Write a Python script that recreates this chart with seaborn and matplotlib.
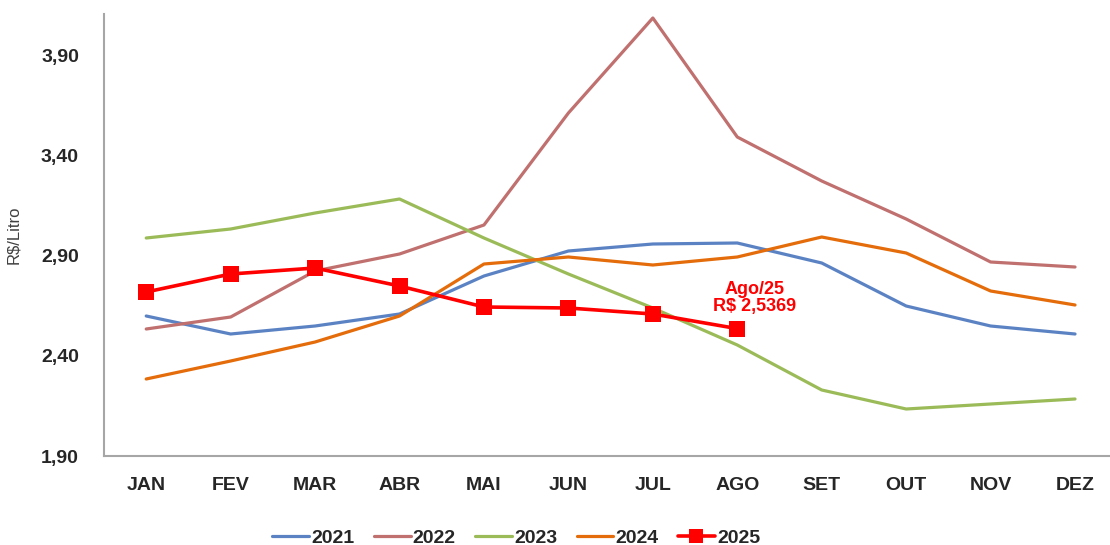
import pandas as pd
import matplotlib
matplotlib.use('Agg')
import matplotlib.pyplot as plt
import seaborn as sns

# Dados (R$/Litro por mês)
meses = ['JAN', 'FEV', 'MAR', 'ABR', 'MAI', 'JUN', 'JUL', 'AGO', 'SET', 'OUT', 'NOV', 'DEZ']
v2021 = [2.60, 2.51, 2.55, 2.61, 2.80, 2.925, 2.96, 2.965, 2.865, 2.65, 2.55, 2.51]
v2022 = [2.535, 2.595, 2.825, 2.91, 3.055, 3.615, 4.09, 3.495, 3.275, 3.085, 2.87, 2.845]
v2023 = [2.99, 3.035, 3.115, 3.185, 2.99, 2.81, 2.64, 2.455, 2.23, 2.135, 2.16, 2.185]
v2024 = [2.285, 2.375, 2.47, 2.60, 2.86, 2.895, 2.855, 2.895, 2.995, 2.915, 2.725, 2.655]
v2025 = [2.72, 2.81, 2.84, 2.75, 2.645, 2.64, 2.61, 2.5369]
yticks = [1.90, 2.40, 2.90, 3.40, 3.90]

cores = {'2021': '#5B83C4', '2022': '#C0706E', '2023': '#9BBB59',
         '2024': '#E46C0A', '2025': '#FF0000'}

series = {'2021': v2021, '2022': v2022, '2023': v2023, '2024': v2024}
linhas = []
for ano, vals in series.items():
    for m, v in zip(meses, vals):
        linhas.append({'mes': m, 'valor': v, 'ano': ano})
df = pd.DataFrame(linhas)
df25 = pd.DataFrame({'mes': meses[:len(v2025)], 'valor': v2025, 'ano': '2025'})

sns.set_style('white')
plt.rcParams['font.family'] = ['Liberation Sans', 'DejaVu Sans']

fig = plt.figure(figsize=(11.1, 5.45), dpi=100)
ax = fig.add_axes([104 / 1110, 89 / 545, 1 - 104 / 1110, (456 - 14) / 545])

sns.lineplot(data=df, x='mes', y='valor', hue='ano', palette=cores, linewidth=2.3,
             sort=False, ax=ax)
sns.lineplot(data=df25, x='mes', y='valor', color=cores['2025'], linewidth=2.6,
             marker='s', markersize=12, markeredgewidth=0, sort=False, ax=ax,
             label='2025')

ax.annotate('Ago/25\nR$ 2,5369', xy=(7.2, 2.69), ha='center', va='center',
            color='#FF0000', fontsize=13, fontweight='bold', linespacing=1.05)

ax.set_xlim(-0.5, 11 + (1110 - 1075) / 84.5)
ax.set_ylim(1.90, 1.90 + (456 - 14) * 0.005)
ax.set_yticks(yticks)
ax.set_yticklabels([f'{t:.2f}'.replace('.', ',') for t in yticks],
                   fontsize=14, fontweight='bold')
ax.set_xticks(range(12))
ax.set_xticklabels(meses, fontsize=14, fontweight='bold')
ax.tick_params(axis='x', length=0, pad=15)
ax.tick_params(axis='y', length=4, color='#A6A6A6', direction='out', pad=14)
ax.set_xlabel('')
ax.set_ylabel('R$/Litro', fontsize=12, color='#404040', labelpad=14)

for s in ['top', 'right']:
    ax.spines[s].set_visible(False)
for s in ['left', 'bottom']:
    ax.spines[s].set_color('#A6A6A6')
    ax.spines[s].set_linewidth(1.5)

h, l = ax.get_legend_handles_labels()
if ax.legend_:
    ax.legend_.remove()
leg = fig.legend(h, l, loc='lower center', bbox_to_anchor=(0.465, -0.035), ncol=5,
                 frameon=False, fontsize=14, handlelength=1.9, handletextpad=0.1,
                 columnspacing=1.0, markerscale=0.8)
for t in leg.get_texts():
    t.set_fontweight('bold')

fig.savefig('out.png', dpi=100)
